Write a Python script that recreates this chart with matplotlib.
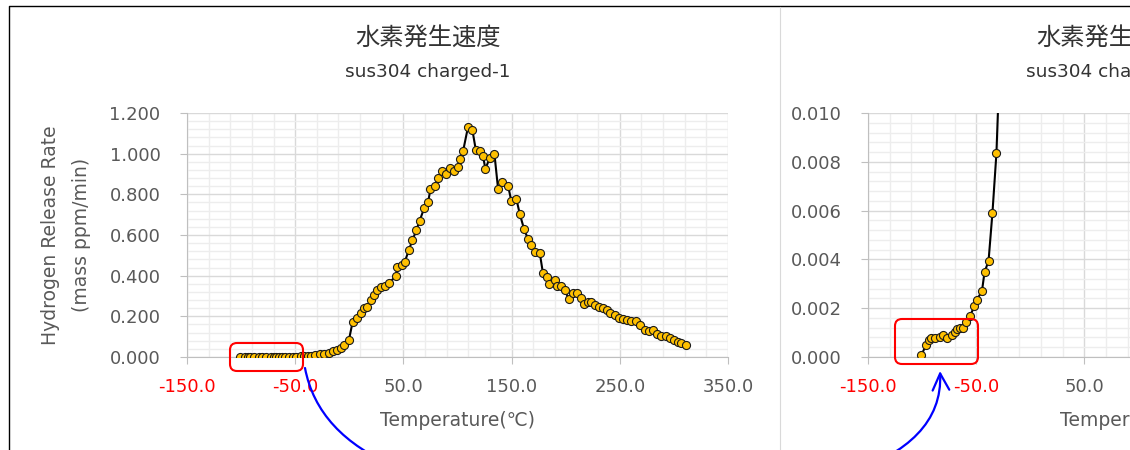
import matplotlib
matplotlib.use('Agg')
import matplotlib.pyplot as plt
import matplotlib.ticker as mticker
from matplotlib.path import Path
from matplotlib.patches import FancyArrowPatch, FancyBboxPatch
from matplotlib.lines import Line2D
from matplotlib.transforms import Affine2D

plt.rcParams['font.family'] = ['DejaVu Sans', 'Noto Sans CJK JP']

# Данные: температура (°C) и скорость выделения водорода (mass ppm/min)
temperature = [
    -100.8, -96.4, -94.0, -91.8, -88.5, -83.9, -80.8, -76.8, -72.4, -70.0, -67.3,
    -64.8, -62.6, -59.2, -55.5, -51.8, -49.4, -44.7, -42.3, -38.6, -35.0, -31.3,
    -27.5, -23.0, -18.8, -14.9, -11.2, -7.8, -4.8, -0.4, 3.0, 6.7, 10.4, 13.4,
    16.5, 19.6, 22.7, 25.7, 28.9, 32.8, 36.8, 43.0, 44.2, 48.3, 51.3, 55.0, 58.4,
    62.1, 65.1, 69.1, 72.8, 75.0, 79.0, 82.0,
    86.1, 89.2, 92.8, 96.5, 100.5, 102.7, 105.1, 109.7, 113.8, 116.9, 120.5, 123.6,
    125.8, 129.8, 134.1, 137.5, 141.5, 146.7, 149.8, 154.4, 157.5, 161.5, 165.2,
    168.3, 171.3, 176.0,
    179.0, 182.7, 184.5, 189.8, 192.0, 196.0, 199.0, 203.0, 206.7, 210.4, 214.5,
    216.6, 220.6, 223.7, 226.7, 230.7, 234.4, 238.1, 241.2, 245.2, 249.2, 252.9,
    256.6, 260.6, 265.2, 268.9, 272.9, 276.9, 280.6, 284.3, 288.3, 292.3, 296.0,
    299.7, 303.7, 306.8, 310.8,
]
release_rate = [
    0.00007, 0.00048, 0.00068, 0.00078, 0.00078, 0.00080, 0.00089, 0.00078, 0.00089,
    0.00102, 0.00116, 0.00120, 0.00120, 0.00143, 0.00170, 0.00207, 0.00235, 0.00269,
    0.00348, 0.00393, 0.00590, 0.00835,
    0.013, 0.017, 0.022, 0.028, 0.036, 0.046, 0.061, 0.082, 0.171, 0.190, 0.218, 0.240,
    0.248, 0.280, 0.305, 0.330, 0.343, 0.350, 0.366, 0.396, 0.441, 0.452, 0.468, 0.526,
    0.575, 0.625, 0.671, 0.731, 0.761, 0.825, 0.842, 0.880,
    0.914, 0.901, 0.929, 0.914, 0.934, 0.974, 1.011, 1.131, 1.115, 1.019, 1.011, 0.987,
    0.925, 0.979, 1.000, 0.827, 0.860, 0.843, 0.766, 0.777, 0.705, 0.629, 0.580, 0.551,
    0.518, 0.513,
    0.411, 0.392, 0.360, 0.380, 0.347, 0.350, 0.330, 0.284, 0.317, 0.313, 0.288, 0.260,
    0.272, 0.272, 0.255, 0.244, 0.239, 0.231, 0.218, 0.206, 0.194, 0.189, 0.184, 0.178,
    0.178, 0.156, 0.135, 0.128, 0.132, 0.115, 0.102, 0.102, 0.091, 0.082, 0.074, 0.069,
    0.058,
]

title = '水素発生速度'
subtitle = 'sus304 charged-1'
x_label = 'Temperature(℃)'
y_label = 'Hydrogen Release Rate\n(mass ppm/min)'
x_ticks = [-150, -50, 50, 150, 250, 350]
red_x_ticks = [-150, -50]
left_y_ticks = [0.0, 0.2, 0.4, 0.6, 0.8, 1.0, 1.2]
right_y_ticks = [0.0, 0.002, 0.004, 0.006, 0.008, 0.010]

W, H = 1130, 450
fig = plt.figure(figsize=(W / 100, H / 100), dpi=100)
fig.patch.set_facecolor('white')
# пиксельные координаты картинки (ось y вниз)
pix = Affine2D().scale(1 / 100, -1 / 100).translate(0, H / 100) + fig.dpi_scale_trans

GRAY_TXT = '#595959'


def draw_panel(dx, y_ticks, show_ylabel):
    # область графика в пикселях
    left, top, right, bottom = 187 + dx, 113, 728 + dx, 357
    ax = fig.add_axes([left / W, 1 - bottom / H, (right - left) / W, (bottom - top) / H])
    ax.plot(temperature, release_rate, color='black', lw=1.5, marker='o', ms=5.8,
            mfc='#FFC000', mec='#1a1a1a', mew=0.8, zorder=3)
    ax.set_xlim(-150, 350)
    ax.set_ylim(y_ticks[0], y_ticks[-1])
    ax.set_xticks(x_ticks, labels=[f'{v:.1f}' for v in x_ticks])
    ax.set_yticks(y_ticks, labels=[f'{v:.3f}' for v in y_ticks])
    ax.xaxis.set_minor_locator(mticker.AutoMinorLocator(5))
    ax.yaxis.set_minor_locator(mticker.AutoMinorLocator(5))
    ax.grid(which='major', color='#D9D9D9', lw=1.0)
    ax.grid(which='minor', color='#EDEDED', lw=1.0)
    ax.set_axisbelow(True)
    for s in ['top', 'right']:
        ax.spines[s].set_visible(False)
    for s in ['left', 'bottom']:
        ax.spines[s].set_color('#BFBFBF')
    ax.tick_params(which='major', length=5, color='#BFBFBF', labelsize=13, labelcolor=GRAY_TXT)
    ax.tick_params(axis='y', pad=14)
    ax.tick_params(axis='x', pad=10)
    ax.tick_params(which='minor', length=0)
    for lbl, v in zip(ax.get_xticklabels(), x_ticks):
        if v in red_x_ticks:
            lbl.set_color('#FF0000')
        # подписи за краем картинки не нужны
        if left + (v + 150) * (right - left) / 500 > W:
            lbl.set_visible(False)

    fig.text(428 + dx, 38, title, transform=pix, ha='center', va='center',
             fontsize=17.5, family='Noto Sans CJK JP', color='#333333')
    fig.text(428 + dx, 72, subtitle, transform=pix, ha='center', va='center',
             fontsize=13.3, color='#333333')
    fig.text(457 + dx, 421, x_label, transform=pix, ha='center', va='center',
             fontsize=13.5, color=GRAY_TXT)
    if show_ylabel:
        fig.text(66 + dx, 235, y_label, transform=pix, ha='center', va='center',
                 rotation=90, multialignment='center', linespacing=1.75,
                 fontsize=13.5, color=GRAY_TXT)
    return ax


ax_main = draw_panel(0, left_y_ticks, True)
ax_zoom = draw_panel(681, right_y_ticks, False)

# рамки
fig.add_artist(Line2D([9, 9, W], [H, 6, 6], transform=pix, color='black', lw=1.0))
fig.add_artist(Line2D([780, 780], [7, H], transform=pix, color='#D9D9D9', lw=0.8))

# красные рамки выделения
for (x0, y0, w, h) in [(230, 343, 73, 28), (895, 319, 83, 45)]:
    fig.add_artist(FancyBboxPatch((x0, y0), w, h, boxstyle='round,pad=0,rounding_size=7',
                                  transform=pix, fill=False, ec='#FF0000', lw=1.5))

# синяя стрелка
verts = [(305, 368), (321.7, 456), (426.7, 500), (620, 500),
         (800, 500), (945, 470), (940, 371)]
codes = [Path.MOVETO] + [Path.CURVE4] * 6
arrow = FancyArrowPatch(path=Path(verts, codes), arrowstyle='->', mutation_scale=30,
                        transform=pix, color='#0000FF', lw=1.6)
fig.add_artist(arrow)

fig.savefig('out.png', dpi=100)
